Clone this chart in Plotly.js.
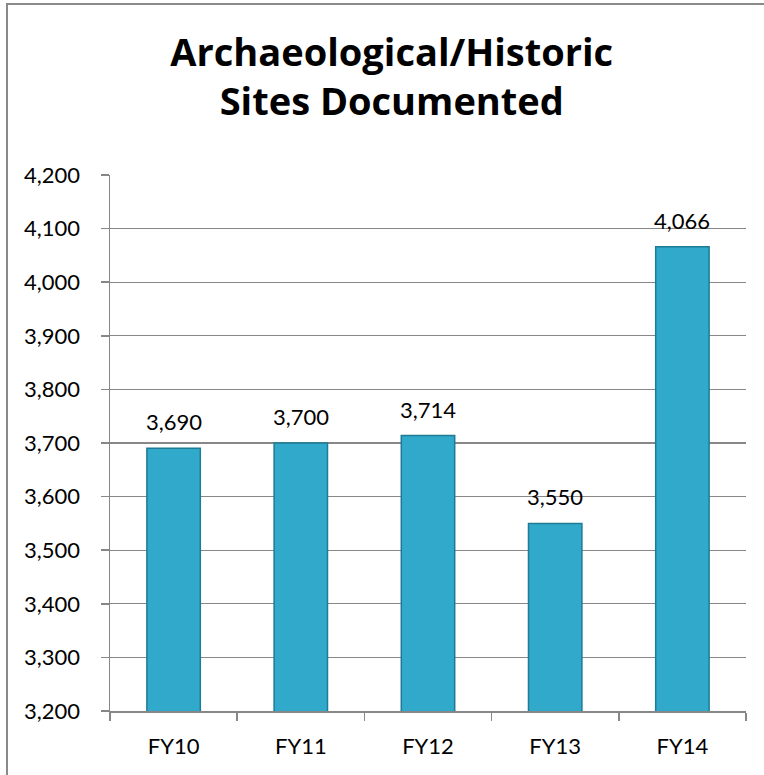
<!DOCTYPE html>
<html>
<head>
<meta charset="utf-8">
<script src="https://cdn.plot.ly/plotly-3.0.1.min.js"></script>
<style>
  html, body { margin: 0; padding: 0; background: #ffffff; }
  #wrap { position: relative; width: 764px; height: 775px; overflow: hidden; }
  #chart { width: 764px; height: 775px; }
  #frame { position: absolute; left: 6px; top: 3px; width: 800px; height: 800px;
           border-top: 2px solid #8a8a8a; border-left: 2px solid #8a8a8a; pointer-events: none; }
</style>
</head>
<body>
<div id="wrap">
  <div id="chart"></div>
  <div id="frame"></div>
</div>
<script>
const categories = ["FY10", "FY11", "FY12", "FY13", "FY14"];
const sitesDocumented = [3690, 3700, 3714, 3550, 4066];
const yTickValues = [3200, 3300, 3400, 3500, 3600, 3700, 3800, 3900, 4000, 4100, 4200];
const titleLines = ["Archaeological/Historic", "Sites Documented"];

const fmt = v => v.toLocaleString("en-US");
const FONT = "Lato, 'Open Sans', sans-serif";
const TITLE_FONT = "'Open Sans', Lato, sans-serif";
const GRID = "#878787";

const trace = {
  type: "bar",
  x: categories,
  y: sitesDocumented,
  width: 0.42,
  marker: {
    color: "#31a9cb",
    line: { color: "#1e7b95", width: 1.5 }
  },
  hoverinfo: "x+y"
};

const annotations = categories.map((c, i) => ({
  x: c, y: sitesDocumented[i], xref: "x", yref: "y",
  text: fmt(sitesDocumented[i]),
  showarrow: false, yanchor: "bottom", yshift: 11,
  font: { family: FONT, size: 22, color: "#000000" }
}));

const layout = {
  width: 764, height: 775,
  margin: { l: 110, r: 18, t: 175, b: 64, pad: 0 },
  paper_bgcolor: "#ffffff", plot_bgcolor: "#ffffff",
  showlegend: false,
  title: {
    text: "<b>" + titleLines.join("<br>") + "</b>",
    font: { family: TITLE_FONT, size: 38, color: "#000000" },
    xref: "paper", x: 0.443, xanchor: "center",
    yref: "container", y: 0.915, yanchor: "top"
  },
  xaxis: {
    type: "category",
    showgrid: false,
    showline: true, linecolor: GRID, linewidth: 1.5,
    ticks: "outside", tickson: "boundaries", ticklen: 8, tickcolor: GRID, tickwidth: 1.5,
    tickfont: { family: FONT, size: 22, color: "#000000" },
    ticklabelstandoff: 15,
    fixedrange: true
  },
  yaxis: {
    range: [3200, 4200],
    tickmode: "array", tickvals: yTickValues, ticktext: yTickValues.map(fmt),
    showgrid: true, gridcolor: GRID, gridwidth: 1.3,
    zeroline: false,
    showline: true, linecolor: GRID, linewidth: 1.5,
    ticks: "outside", ticklen: 8, tickcolor: GRID, tickwidth: 1.5,
    tickfont: { family: FONT, size: 22, color: "#000000" },
    ticklabelstandoff: 16,
    fixedrange: true
  },
  annotations: annotations,
  bargap: 0.58
};

Plotly.newPlot("chart", [trace], layout, { displayModeBar: false, staticPlot: true });
</script>
</body>
</html>
